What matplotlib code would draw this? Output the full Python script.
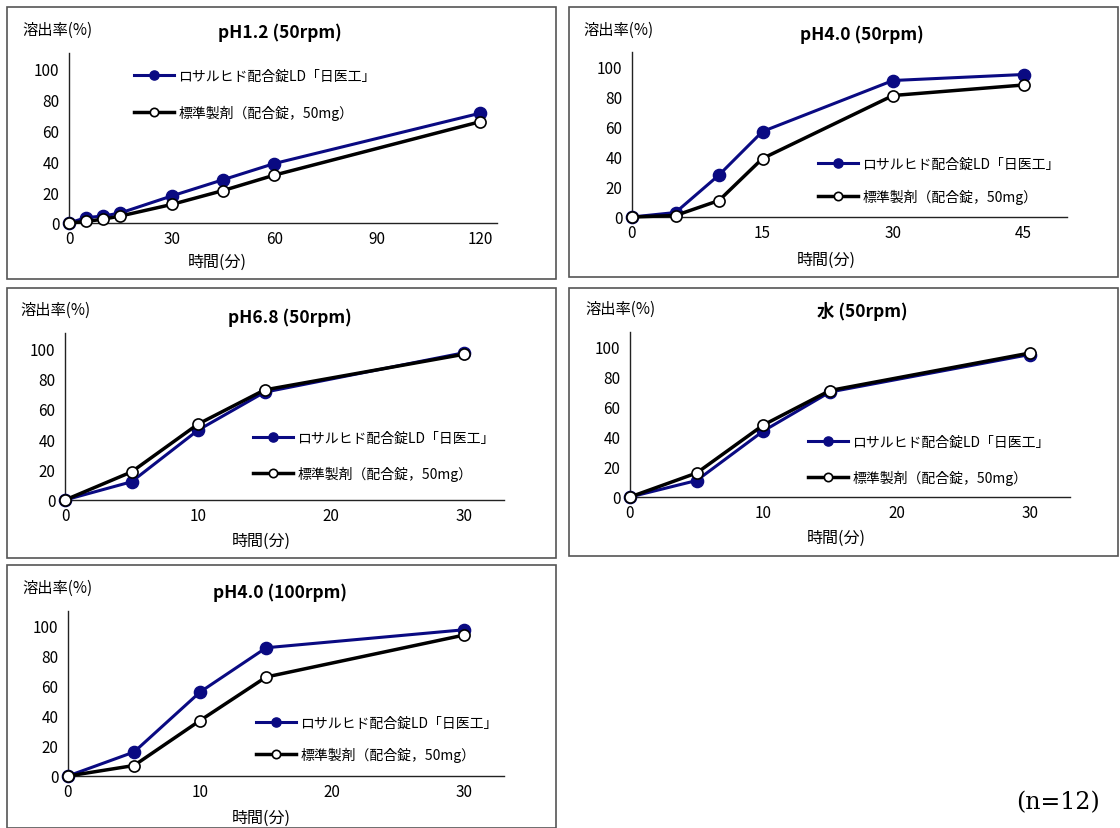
import matplotlib
matplotlib.use("Agg")
import matplotlib.pyplot as plt
from matplotlib.patches import Rectangle

plt.rcParams['font.family'] = ['Noto Sans CJK JP', 'DejaVu Sans']

W, H = 1120, 829

label_test = "ロサルヒド配合錠LD「日医工」"
label_ref = "標準製剤（配合錠，50mg）"
blue = "#0a0a82"

# --- data ---
titles = ["pH1.2 (50rpm)", "pH4.0 (50rpm)", "pH6.8 (50rpm)", "水 (50rpm)", "pH4.0 (100rpm)"]

t_ph12 = [0, 5, 10, 15, 30, 45, 60, 120]
test_ph12 = [0, 3.5, 4.5, 6.5, 17.5, 28, 38.5, 71]
ref_ph12 = [0, 1, 2.5, 4.5, 12, 21, 31, 65.5]

t_ph40 = [0, 5, 10, 15, 30, 45]
test_ph40 = [0, 3, 28, 57, 91, 95]
ref_ph40 = [0, 1, 11, 39, 81, 88]

t_ph68 = [0, 5, 10, 15, 30]
test_ph68 = [0, 12, 46, 71, 97]
ref_ph68 = [0, 18.5, 50, 72.5, 96]

t_water = [0, 5, 10, 15, 30]
test_water = [0, 11, 44, 70, 95]
ref_water = [0, 16, 48, 71, 96]

t_ph40_100 = [0, 5, 10, 15, 30]
test_ph40_100 = [0, 16, 56, 85.5, 97.5]
ref_ph40_100 = [0, 7, 37, 66, 94]

series = [
    (t_ph12, test_ph12, ref_ph12),
    (t_ph40, test_ph40, ref_ph40),
    (t_ph68, test_ph68, ref_ph68),
    (t_water, test_water, ref_water),
    (t_ph40_100, test_ph40_100, ref_ph40_100),
]
xticks = [[0, 30, 60, 90, 120], [0, 15, 30, 45], [0, 10, 20, 30], [0, 10, 20, 30], [0, 10, 20, 30]]
xmax = [125, 50, 33, 33, 33]
yticks = [0, 20, 40, 60, 80, 100]

# --- layout in pixels ---
boxes = [(7, 8, 556, 280), (569, 8, 1118, 278), (7, 289, 556, 559),
         (569, 289, 1118, 557), (7, 566, 556, 829)]
axes_px = [(69, 54, 497, 224), (632, 53, 1067, 218), (65, 334, 504, 501),
           (630, 333, 1070, 498), (68, 612, 504, 777)]
title_px = [(280, 33), (862, 35), (290, 318), (862, 312), (280, 593)]
ylab_px = [(22, 30), (583, 30), (20, 310), (585, 309), (22, 588)]
xlab_px = [(217, 262), (826, 260), (261, 541), (836, 538), (261, 818)]
leg_px = [(134, 75, 1.55), (818, 163, 1.26), (253, 437, 1.47), (808, 441, 1.52), (256, 722, 1.23)]


def fx(x):
    return x / W


def fy(y):
    return 1 - y / H


fig = plt.figure(figsize=(W / 100, H / 100), dpi=100)

for i in range(5):
    x0, y0, x1, y1 = boxes[i]
    fig.patches.append(Rectangle((fx(x0), fy(y1)), fx(x1 - x0), (y1 - y0) / H,
                                 transform=fig.transFigure, fill=False,
                                 edgecolor="#555555", linewidth=1.2))

    l, t, r, b = axes_px[i]
    ax = fig.add_axes([fx(l), fy(b), fx(r - l), (b - t) / H])
    t_vals, test_vals, ref_vals = series[i]
    ax.plot(t_vals, test_vals, color=blue, lw=2.2, marker="o", ms=8.8,
            mfc=blue, mec=blue, clip_on=False, zorder=3, label=label_test)
    ax.plot(t_vals, ref_vals, color="black", lw=2.5, marker="o", ms=8,
            mfc="white", mec="black", mew=1.2, clip_on=False, zorder=4, label=label_ref)

    ax.set_xlim(0, xmax[i])
    ax.set_ylim(0, 110)
    ax.set_xticks(xticks[i])
    ax.set_yticks(yticks)
    ax.tick_params(length=0, labelsize=11)
    ax.tick_params(axis="y", pad=7)
    ax.tick_params(axis="x", pad=5)
    for s in ["top", "right"]:
        ax.spines[s].set_visible(False)
    for s in ["left", "bottom"]:
        ax.spines[s].set_color("#222222")
        ax.spines[s].set_linewidth(1)

    lx, ly, ls = leg_px[i]
    ax.legend(loc="upper left", bbox_to_anchor=(fx(lx), fy(ly - 5)),
              bbox_transform=fig.transFigure, frameon=False, fontsize=10,
              handlelength=2.9, handletextpad=0.3, labelspacing=ls,
              borderpad=0, borderaxespad=0, markerscale=0.75)

    tx, ty = title_px[i]
    fig.text(fx(tx), fy(ty), titles[i], ha="center", va="center",
             fontsize=12.5, fontweight="bold")
    yx, yy = ylab_px[i]
    fig.text(fx(yx), fy(yy), "溶出率(%)", ha="left", va="center", fontsize=11)
    xx, xy = xlab_px[i]
    fig.text(fx(xx), fy(xy), "時間(分)", ha="center", va="center", fontsize=11.5)

fig.text(fx(1100), fy(803), "(n=12)", ha="right", va="center",
         fontsize=17, family="DejaVu Serif")

fig.savefig("out.png", dpi=100)
